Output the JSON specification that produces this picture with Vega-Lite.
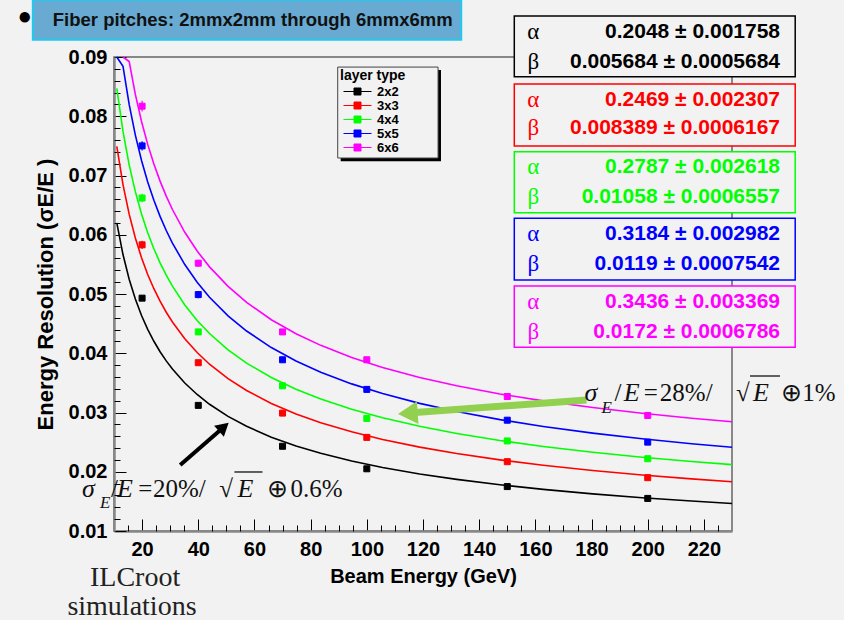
{
  "$schema": "https://vega.github.io/schema/vega-lite/v6.json",
  "width": 618,
  "height": 474,
  "autosize": "none",
  "padding": {"left": 114, "top": 57, "right": 112, "bottom": 89},
  "background": "#f2f2f2",
  "config": {
    "view": {"fill": "#f2f2f2", "stroke": "#666666", "strokeWidth": 1.5},
    "font": "Liberation Sans"
  },
  "resolve": {"axis": {"x": "independent", "y": "independent"}},
  "datasets": {
    "curves": [
      {"series":"2x2","E":11,"v":0.06201},{"series":"2x2","E":13.2,"v":0.05666},{"series":"2x2","E":15.4,"v":0.0525},{"series":"2x2","E":17.6,"v":0.04915},{"series":"2x2","E":19.8,"v":0.04637},{"series":"2x2","E":22,"v":0.04403},{"series":"2x2","E":24.2,"v":0.04202},{"series":"2x2","E":26.4,"v":0.04026},{"series":"2x2","E":28.6,"v":0.03871},{"series":"2x2","E":30.8,"v":0.03734},{"series":"2x2","E":35.2,"v":0.03498},{"series":"2x2","E":39.6,"v":0.03304},{"series":"2x2","E":44,"v":0.03139},{"series":"2x2","E":50.6,"v":0.02935},{"series":"2x2","E":57.2,"v":0.02767},{"series":"2x2","E":66,"v":0.02584},{"series":"2x2","E":74.8,"v":0.02435},{"series":"2x2","E":83.6,"v":0.02311},{"series":"2x2","E":94.6,"v":0.02181},{"series":"2x2","E":105.6,"v":0.02072},{"series":"2x2","E":118.8,"v":0.01963},{"series":"2x2","E":132,"v":0.01871},{"series":"2x2","E":147.4,"v":0.0178},{"series":"2x2","E":162.8,"v":0.01703},{"series":"2x2","E":180.4,"v":0.01627},{"series":"2x2","E":198,"v":0.01562},{"series":"2x2","E":215.6,"v":0.01506},{"series":"2x2","E":230,"v":0.01465},
      {"series":"3x3","E":11,"v":0.07491},{"series":"3x3","E":13.2,"v":0.06847},{"series":"3x3","E":15.4,"v":0.06347},{"series":"3x3","E":17.6,"v":0.05945},{"series":"3x3","E":19.8,"v":0.05612},{"series":"3x3","E":22,"v":0.0533},{"series":"3x3","E":24.2,"v":0.05089},{"series":"3x3","E":26.4,"v":0.04878},{"series":"3x3","E":28.6,"v":0.04692},{"series":"3x3","E":30.8,"v":0.04527},{"series":"3x3","E":35.2,"v":0.04245},{"series":"3x3","E":39.6,"v":0.04012},{"series":"3x3","E":44,"v":0.03815},{"series":"3x3","E":50.6,"v":0.03571},{"series":"3x3","E":57.2,"v":0.03371},{"series":"3x3","E":66,"v":0.03153},{"series":"3x3","E":74.8,"v":0.02976},{"series":"3x3","E":83.6,"v":0.02828},{"series":"3x3","E":94.6,"v":0.02674},{"series":"3x3","E":105.6,"v":0.02545},{"series":"3x3","E":118.8,"v":0.02416},{"series":"3x3","E":132,"v":0.02307},{"series":"3x3","E":147.4,"v":0.022},{"series":"3x3","E":162.8,"v":0.02109},{"series":"3x3","E":180.4,"v":0.02021},{"series":"3x3","E":198,"v":0.01945},{"series":"3x3","E":215.6,"v":0.01879},{"series":"3x3","E":230,"v":0.01832},
      {"series":"4x4","E":11,"v":0.0847},{"series":"4x4","E":13.2,"v":0.07744},{"series":"4x4","E":15.4,"v":0.0718},{"series":"4x4","E":17.6,"v":0.06727},{"series":"4x4","E":19.8,"v":0.06352},{"series":"4x4","E":22,"v":0.06035},{"series":"4x4","E":24.2,"v":0.05763},{"series":"4x4","E":26.4,"v":0.05526},{"series":"4x4","E":28.6,"v":0.05318},{"series":"4x4","E":30.8,"v":0.05132},{"series":"4x4","E":35.2,"v":0.04815},{"series":"4x4","E":39.6,"v":0.04554},{"series":"4x4","E":44,"v":0.04333},{"series":"4x4","E":50.6,"v":0.04058},{"series":"4x4","E":57.2,"v":0.03834},{"series":"4x4","E":66,"v":0.0359},{"series":"4x4","E":74.8,"v":0.03392},{"series":"4x4","E":83.6,"v":0.03227},{"series":"4x4","E":94.6,"v":0.03055},{"series":"4x4","E":105.6,"v":0.02911},{"series":"4x4","E":118.8,"v":0.02767},{"series":"4x4","E":132,"v":0.02647},{"series":"4x4","E":147.4,"v":0.02528},{"series":"4x4","E":162.8,"v":0.02427},{"series":"4x4","E":180.4,"v":0.02329},{"series":"4x4","E":198,"v":0.02246},{"series":"4x4","E":215.6,"v":0.02173},{"series":"4x4","E":230,"v":0.02121},
      {"series":"5x5","E":11,"v":0.09},{"series":"5x5","E":13.2,"v":0.08844},{"series":"5x5","E":15.4,"v":0.082},{"series":"5x5","E":17.6,"v":0.07682},{"series":"5x5","E":19.8,"v":0.07254},{"series":"5x5","E":22,"v":0.06892},{"series":"5x5","E":24.2,"v":0.06581},{"series":"5x5","E":26.4,"v":0.0631},{"series":"5x5","E":28.6,"v":0.06072},{"series":"5x5","E":30.8,"v":0.05859},{"series":"5x5","E":35.2,"v":0.05497},{"series":"5x5","E":39.6,"v":0.05198},{"series":"5x5","E":44,"v":0.04945},{"series":"5x5","E":50.6,"v":0.04632},{"series":"5x5","E":57.2,"v":0.04375},{"series":"5x5","E":66,"v":0.04096},{"series":"5x5","E":74.8,"v":0.03869},{"series":"5x5","E":83.6,"v":0.0368},{"series":"5x5","E":94.6,"v":0.03483},{"series":"5x5","E":105.6,"v":0.03319},{"series":"5x5","E":118.8,"v":0.03154},{"series":"5x5","E":132,"v":0.03016},{"series":"5x5","E":147.4,"v":0.0288},{"series":"5x5","E":162.8,"v":0.02765},{"series":"5x5","E":180.4,"v":0.02652},{"series":"5x5","E":198,"v":0.02557},{"series":"5x5","E":215.6,"v":0.02473},{"series":"5x5","E":230,"v":0.02413},
      {"series":"6x6","E":13.2,"v":0.09},{"series":"6x6","E":15.4,"v":0.08923},{"series":"6x6","E":17.6,"v":0.08369},{"series":"6x6","E":19.8,"v":0.07911},{"series":"6x6","E":22,"v":0.07525},{"series":"6x6","E":24.2,"v":0.07193},{"series":"6x6","E":26.4,"v":0.06905},{"series":"6x6","E":28.6,"v":0.06651},{"series":"6x6","E":30.8,"v":0.06426},{"series":"6x6","E":35.2,"v":0.06042},{"series":"6x6","E":39.6,"v":0.05725},{"series":"6x6","E":44,"v":0.05458},{"series":"6x6","E":50.6,"v":0.05128},{"series":"6x6","E":57.2,"v":0.04858},{"series":"6x6","E":66,"v":0.04566},{"series":"6x6","E":74.8,"v":0.04329},{"series":"6x6","E":83.6,"v":0.04133},{"series":"6x6","E":94.6,"v":0.03929},{"series":"6x6","E":105.6,"v":0.0376},{"series":"6x6","E":118.8,"v":0.03591},{"series":"6x6","E":132,"v":0.0345},{"series":"6x6","E":147.4,"v":0.03312},{"series":"6x6","E":162.8,"v":0.03196},{"series":"6x6","E":180.4,"v":0.03083},{"series":"6x6","E":198,"v":0.02987},{"series":"6x6","E":215.6,"v":0.02904},{"series":"6x6","E":230,"v":0.02845}
    ],
    "points": [
      {"series":"2x2","E":20,"v":0.0493,"lo":0.049,"hi":0.0496},{"series":"2x2","E":40,"v":0.0312,"lo":0.0308,"hi":0.0316},{"series":"2x2","E":70,"v":0.0243,"lo":0.0239,"hi":0.0247},{"series":"2x2","E":100,"v":0.0205,"lo":0.0201,"hi":0.0209},{"series":"2x2","E":150,"v":0.0175,"lo":0.0172,"hi":0.0178},{"series":"2x2","E":200,"v":0.0155,"lo":0.0152,"hi":0.0158},
      {"series":"3x3","E":20,"v":0.0583,"lo":0.0576,"hi":0.059},{"series":"3x3","E":40,"v":0.0384,"lo":0.0379,"hi":0.0389},{"series":"3x3","E":70,"v":0.0299,"lo":0.0294,"hi":0.0304},{"series":"3x3","E":100,"v":0.0258,"lo":0.0254,"hi":0.0262},{"series":"3x3","E":150,"v":0.0217,"lo":0.0213,"hi":0.0221},{"series":"3x3","E":200,"v":0.019,"lo":0.0186,"hi":0.0194},
      {"series":"4x4","E":20,"v":0.0662,"lo":0.0655,"hi":0.0669},{"series":"4x4","E":40,"v":0.0436,"lo":0.0431,"hi":0.0441},{"series":"4x4","E":70,"v":0.0345,"lo":0.034,"hi":0.035},{"series":"4x4","E":100,"v":0.029,"lo":0.0285,"hi":0.0295},{"series":"4x4","E":150,"v":0.0252,"lo":0.0247,"hi":0.0257},{"series":"4x4","E":200,"v":0.0222,"lo":0.0218,"hi":0.0226},
      {"series":"5x5","E":20,"v":0.075,"lo":0.0742,"hi":0.0758},{"series":"5x5","E":40,"v":0.0499,"lo":0.0493,"hi":0.0505},{"series":"5x5","E":70,"v":0.0389,"lo":0.0384,"hi":0.0394},{"series":"5x5","E":100,"v":0.0339,"lo":0.0334,"hi":0.0344},{"series":"5x5","E":150,"v":0.0287,"lo":0.0282,"hi":0.0292},{"series":"5x5","E":200,"v":0.025,"lo":0.0245,"hi":0.0255},
      {"series":"6x6","E":20,"v":0.0817,"lo":0.0808,"hi":0.0826},{"series":"6x6","E":40,"v":0.0552,"lo":0.0546,"hi":0.0558},{"series":"6x6","E":70,"v":0.0436,"lo":0.0431,"hi":0.0441},{"series":"6x6","E":100,"v":0.0389,"lo":0.0384,"hi":0.0394},{"series":"6x6","E":150,"v":0.0327,"lo":0.0322,"hi":0.0332},{"series":"6x6","E":200,"v":0.0295,"lo":0.029,"hi":0.03}
    ],
    "boxes": [
      {"series":"2x2","v":0.09692,"v2":0.08667},
      {"series":"3x3","v":0.08544,"v2":0.07498},
      {"series":"4x4","v":0.07402,"v2":0.06372},
      {"series":"5x5","v":0.06278,"v2":0.05236},
      {"series":"6x6","v":0.05135,"v2":0.041}
    ],
    "stats": [
      {"series":"2x2","sym":"α","val":"0.2048 ± 0.001758","v":0.09427},
      {"series":"2x2","sym":"β","val":"0.005684 ± 0.0005684","v":0.08921},
      {"series":"3x3","sym":"α","val":"0.2469 ± 0.002307","v":0.08274},
      {"series":"3x3","sym":"β","val":"0.008389 ± 0.0006167","v":0.07797},
      {"series":"4x4","sym":"α","val":"0.2787 ± 0.002618","v":0.07149},
      {"series":"4x4","sym":"β","val":"0.01058 ± 0.0006557","v":0.06642},
      {"series":"5x5","sym":"α","val":"0.3184 ± 0.002982","v":0.06013},
      {"series":"5x5","sym":"β","val":"0.0119 ± 0.0007542","v":0.05506},
      {"series":"6x6","sym":"α","val":"0.3436 ± 0.003369","v":0.0487},
      {"series":"6x6","sym":"β","val":"0.0172 ± 0.0006786","v":0.04364}
    ],
    "formIt": [
      {"t":"σ","E":177.5,"v":0.03329},{"t":"E","E":191.43,"v":0.03329},{"t":"E","E":237.5,"v":0.03329},
      {"t":"σ","E":-1.43,"v":0.01709},{"t":"E","E":11.07,"v":0.01709},{"t":"E","E":53.93,"v":0.01709}
    ],
    "formUp": [
      {"t":"/","E":188.21,"v":0.03329},{"t":"=","E":198.6,"v":0.03329},{"t":"28%/","E":204.3,"v":0.03329},{"t":"√","E":231.4,"v":0.03329},{"t":"⊕","E":247.5,"v":0.03329},{"t":"1%","E":255.0,"v":0.03329},
      {"t":"/","E":8.93,"v":0.01709},{"t":"=","E":18.6,"v":0.01709},{"t":"20%/","E":23.9,"v":0.01709},{"t":"√","E":47.5,"v":0.01709},{"t":"⊕","E":64.64,"v":0.01709},{"t":"0.6%","E":72.86,"v":0.01709}
    ],
    "formSub": [
      {"t":"E","E":183.57,"v":0.03076},{"t":"E","E":5.0,"v":0.01473}
    ],
    "overline": [
      {"E":236.4,"E2":247.1,"v":0.03616},{"E":52.86,"E2":62.86,"v":0.01996}
    ],
    "notes": [
      {"t":"ILCroot","E":17.5,"v":0.00207},{"t":"simulations","E":16.4,"v":-0.00283}
    ]
  },
  "layer": [
    {
      "data": {"name": "curves"},
      "mark": {"type": "line", "strokeWidth": 1.6},
      "encoding": {
        "x": {
          "field": "E", "type": "quantitative",
          "scale": {"domain": [10, 230], "nice": false, "zero": false},
          "axis": {
            "title": "Beam Energy (GeV)", "orient": "bottom",
            "values": [20,40,60,80,100,120,140,160,180,200,220],
            "format": "d",
            "labelFont": "Liberation Sans", "labelFontWeight": "bold", "labelFontSize": 20, "labelColor": "black",
            "labelFlush": false, "labelOverlap": false, "labelPadding": 20,
            "tickColor": "black", "tickWidth": 1, "tickSize": -12,
            "domainColor": "#888888", "domainWidth": 2.5,
            "titleFont": "Liberation Sans", "titleFontWeight": "bold", "titleFontSize": 20, "titleColor": "black", "titlePadding": 7,
            "grid": false
          }
        },
        "y": {
          "field": "v", "type": "quantitative",
          "scale": {"domain": [0.01, 0.09], "nice": false, "zero": false},
          "axis": {
            "title": "Energy Resolution (σE/E )", "orient": "left",
            "values": [0.01,0.02,0.03,0.04,0.05,0.06,0.07,0.08,0.09],
            "format": ".2f",
            "labelFont": "Liberation Sans", "labelFontWeight": "bold", "labelFontSize": 20, "labelColor": "black",
            "labelFlush": false, "labelOverlap": false, "labelPadding": 19,
            "tickColor": "black", "tickWidth": 1, "tickSize": -12,
            "domainColor": "#888888", "domainWidth": 2.5,
            "titleFont": "Liberation Sans", "titleFontWeight": "bold", "titleFontSize": 22, "titleColor": "black", "titlePadding": 11,
            "grid": false
          }
        },
        "stroke": {
          "field": "series", "type": "nominal",
          "scale": {"domain": ["2x2","3x3","4x4","5x5","6x6"], "range": ["#000000","#ff0000","#00ff00","#0000ff","#ff00ff"]},
          "legend": {
            "title": "layer type", "orient": "none", "legendX": 226, "legendY": 12,
            "titleFont": "Liberation Sans", "titleFontWeight": "bold", "titleFontSize": 14, "titleColor": "black", "titlePadding": 2,
            "labelFont": "Liberation Sans", "labelFontWeight": "bold", "labelFontSize": 13, "labelColor": "black",
            "symbolType": "M-3.5,0H3.5M-0.875,-0.875H0.875V0.875H-0.875Z", "symbolSize": 64, "symbolStrokeWidth": 1,
            "symbolOffset": 11, "labelOffset": 13, "rowPadding": -1, "padding": 0
          }
        }
      }
    },
    {
      "data": {"name": "points"},
      "mark": {"type": "rule", "strokeWidth": 1.2},
      "encoding": {
        "x": {
          "field": "E", "type": "quantitative",
          "axis": {
            "orient": "bottom", "title": null, "labels": false, "domain": false, "grid": false,
            "values": [15,25,30,35,45,50,55,65,70,75,85,90,95,105,110,115,125,130,135,145,150,155,165,170,175,185,190,195,205,210,215,225],
            "tickColor": "black", "tickWidth": 1, "tickSize": -6
          }
        },
        "y": {
          "field": "lo", "type": "quantitative",
          "axis": {
            "orient": "left", "title": null, "labels": false, "domain": false, "grid": false,
            "values": [0.012,0.014,0.016,0.018,0.022,0.024,0.026,0.028,0.032,0.034,0.036,0.038,0.042,0.044,0.046,0.048,0.052,0.054,0.056,0.058,0.062,0.064,0.066,0.068,0.072,0.074,0.076,0.078,0.082,0.084,0.086,0.088],
            "tickColor": "black", "tickWidth": 1, "tickSize": -6
          }
        },
        "y2": {"field": "hi"},
        "stroke": {"field": "series", "type": "nominal"}
      }
    },
    {
      "data": {"name": "points"},
      "mark": {"type": "point", "shape": "square", "filled": true, "size": 36, "strokeWidth": 1, "opacity": 1},
      "encoding": {
        "x": {"field": "E", "type": "quantitative", "axis": null},
        "y": {"field": "v", "type": "quantitative", "axis": null},
        "fill": {
          "field": "series", "type": "nominal",
          "scale": {"domain": ["2x2","3x3","4x4","5x5","6x6"], "range": ["#000000","#ff0000","#00ff00","#0000ff","#ff00ff"]},
          "legend": {
            "title": "layer type", "orient": "none", "legendX": 226, "legendY": 12,
            "titleFont": "Liberation Sans", "titleFontWeight": "bold", "titleFontSize": 14, "titleColor": "black", "titlePadding": 2,
            "labelFont": "Liberation Sans", "labelFontWeight": "bold", "labelFontSize": 13, "labelColor": "black",
            "symbolType": "M-3.5,0H3.5M-0.875,-0.875H0.875V0.875H-0.875Z", "symbolSize": 64, "symbolStrokeWidth": 1,
            "symbolOffset": 11, "labelOffset": 13, "rowPadding": -1, "padding": 0
          }
        },
        "stroke": {"field": "series", "type": "nominal"}
      }
    },
    {
      "data": {"values": [{}]},
      "mark": {"type": "rect", "fill": "#68aad1", "stroke": "#22c8ee", "strokeWidth": 2},
      "encoding": {
        "x": {"datum": -18.9, "type": "quantitative", "axis": null},
        "x2": {"datum": 133.6},
        "y": {"datum": 0.0996, "type": "quantitative", "axis": null},
        "y2": {"datum": 0.0929}
      }
    },
    {
      "data": {"values": [{}]},
      "mark": {"type": "text", "align": "left", "baseline": "middle", "font": "Liberation Sans", "fontWeight": "bold", "fontSize": 18.5, "color": "#111111", "text": "Fiber pitches: 2mmx2mm through 6mmx6mm"},
      "encoding": {
        "x": {"datum": -11.8, "type": "quantitative", "axis": null},
        "y": {"datum": 0.0962, "type": "quantitative", "axis": null}
      }
    },
    {
      "data": {"values": [{}]},
      "mark": {"type": "text", "align": "center", "baseline": "middle", "fontSize": 24, "color": "black", "text": "●"},
      "encoding": {
        "x": {"datum": -21.8, "type": "quantitative", "axis": null},
        "y": {"datum": 0.0968, "type": "quantitative", "axis": null}
      }
    },
    {
      "data": {"name": "boxes"},
      "mark": {"type": "rect", "fill": "#f2f2f2", "strokeWidth": 1.5},
      "encoding": {
        "x": {"datum": 152.5, "type": "quantitative", "axis": null},
        "x2": {"datum": 252.5},
        "y": {"field": "v", "type": "quantitative", "axis": null},
        "y2": {"field": "v2"},
        "stroke": {"field": "series", "type": "nominal"}
      }
    },
    {
      "data": {"name": "stats"},
      "mark": {"type": "text", "align": "center", "baseline": "middle", "font": "Liberation Serif", "fontSize": 23},
      "encoding": {
        "x": {"datum": 159.3, "type": "quantitative", "axis": null},
        "y": {"field": "v", "type": "quantitative", "axis": null},
        "text": {"field": "sym"},
        "fill": {"field": "series", "type": "nominal"}
      }
    },
    {
      "data": {"name": "stats"},
      "mark": {"type": "text", "align": "right", "baseline": "middle", "font": "Liberation Sans", "fontWeight": "bold", "fontSize": 21},
      "encoding": {
        "x": {"datum": 247.1, "type": "quantitative", "axis": null},
        "y": {"field": "v", "type": "quantitative", "axis": null},
        "text": {"field": "val"},
        "fill": {"field": "series", "type": "nominal"}
      }
    },
    {
      "data": {"values": [{}]},
      "mark": {"type": "rect", "fill": "black"},
      "encoding": {
        "x": {"datum": 90.7, "type": "quantitative", "axis": null},
        "x2": {"datum": 126.4},
        "y": {"datum": 0.0878, "type": "quantitative", "axis": null},
        "y2": {"datum": 0.0724}
      }
    },
    {
      "data": {"values": [{}]},
      "mark": {"type": "rect", "fill": "#f2f2f2", "stroke": "#444444", "strokeWidth": 1},
      "encoding": {
        "x": {"datum": 89.64, "type": "quantitative", "axis": null},
        "x2": {"datum": 125.36},
        "y": {"datum": 0.0883, "type": "quantitative", "axis": null},
        "y2": {"datum": 0.07295}
      }
    },
    {
      "data": {"values": [{}]},
      "mark": {"type": "rule", "color": "black", "strokeWidth": 4},
      "encoding": {
        "x": {"datum": 33.57, "type": "quantitative", "axis": null},
        "y": {"datum": 0.02114, "type": "quantitative", "axis": null},
        "x2": {"datum": 49.1},
        "y2": {"datum": 0.02755}
      }
    },
    {
      "data": {"values": [{}]},
      "mark": {"type": "point", "shape": "triangle-up", "filled": true, "color": "black", "size": 220, "angle": 49, "opacity": 1},
      "encoding": {
        "x": {"datum": 49.1, "type": "quantitative", "axis": null},
        "y": {"datum": 0.02755, "type": "quantitative", "axis": null}
      }
    },
    {
      "data": {"values": [{}]},
      "mark": {"type": "rule", "color": "#92d050", "strokeWidth": 7},
      "encoding": {
        "x": {"datum": 178.2, "type": "quantitative", "axis": null},
        "y": {"datum": 0.03211, "type": "quantitative", "axis": null},
        "x2": {"datum": 116.0},
        "y2": {"datum": 0.02995}
      }
    },
    {
      "data": {"values": [{}]},
      "mark": {"type": "point", "shape": "triangle-up", "filled": true, "color": "#92d050", "size": 520, "angle": 266, "opacity": 1},
      "encoding": {
        "x": {"datum": 114.6, "type": "quantitative", "axis": null},
        "y": {"datum": 0.02986, "type": "quantitative", "axis": null}
      }
    },
    {
      "data": {"name": "formIt"},
      "mark": {"type": "text", "align": "left", "baseline": "middle", "font": "Liberation Serif", "fontStyle": "italic", "fontSize": 26, "color": "#111111"},
      "encoding": {
        "x": {"field": "E", "type": "quantitative", "axis": null},
        "y": {"field": "v", "type": "quantitative", "axis": null},
        "text": {"field": "t"}
      }
    },
    {
      "data": {"name": "formUp"},
      "mark": {"type": "text", "align": "left", "baseline": "middle", "font": "Liberation Serif", "fontSize": 25, "color": "#111111"},
      "encoding": {
        "x": {"field": "E", "type": "quantitative", "axis": null},
        "y": {"field": "v", "type": "quantitative", "axis": null},
        "text": {"field": "t"}
      }
    },
    {
      "data": {"name": "formSub"},
      "mark": {"type": "text", "align": "left", "baseline": "middle", "font": "Liberation Serif", "fontStyle": "italic", "fontSize": 17, "color": "#111111"},
      "encoding": {
        "x": {"field": "E", "type": "quantitative", "axis": null},
        "y": {"field": "v", "type": "quantitative", "axis": null},
        "text": {"field": "t"}
      }
    },
    {
      "data": {"name": "overline"},
      "mark": {"type": "rule", "color": "#111111", "strokeWidth": 1.3},
      "encoding": {
        "x": {"field": "E", "type": "quantitative", "axis": null},
        "x2": {"field": "E2"},
        "y": {"field": "v", "type": "quantitative", "axis": null}
      }
    },
    {
      "data": {"name": "notes"},
      "mark": {"type": "text", "align": "center", "baseline": "middle", "font": "Liberation Serif", "fontSize": 28, "color": "#222222"},
      "encoding": {
        "x": {"field": "E", "type": "quantitative", "axis": null},
        "y": {"field": "v", "type": "quantitative", "axis": null},
        "text": {"field": "t"}
      }
    }
  ]
}
